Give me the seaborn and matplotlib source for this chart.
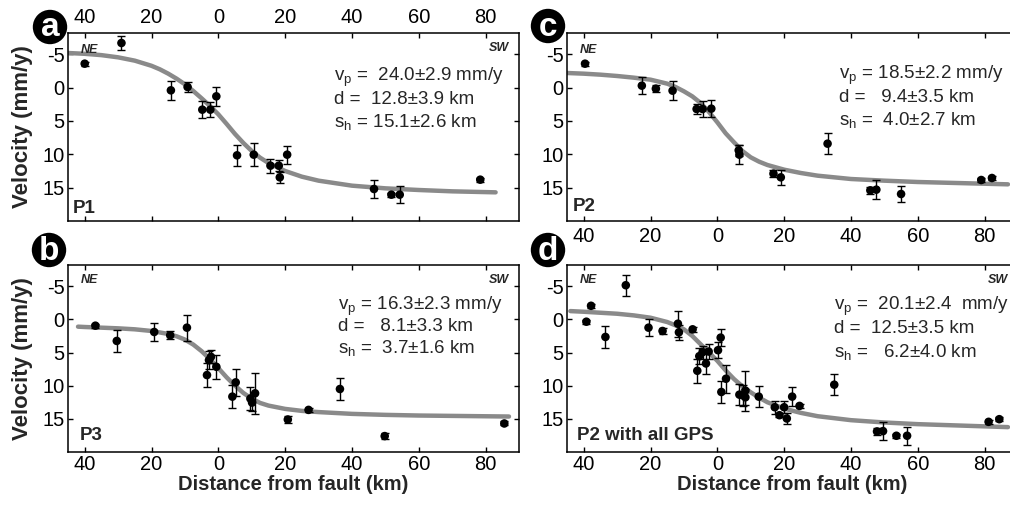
import numpy as np
import pandas as pd
import matplotlib
matplotlib.use("Agg")
import matplotlib.pyplot as plt
import seaborn as sns
from matplotlib.patches import Circle

# ---------------- data (distance: negative = NE side) ----------------
# Panel a : P1
a_x = [-40, -29, -14.2, -9.2, -4.8, -2.4, -0.6, 5.6, 10.6, 15.6, 18.1, 18.4, 20.6, 46.6, 51.8, 54.3, 78.4]
a_y = [-3.6, -6.7, 0.4, -0.1, 3.3, 3.3, 1.3, 10.15, 10.05, 11.7, 11.7, 13.45, 10.05, 15.2, 16.05, 16.05, 13.8]
a_e = [0.3, 1.1, 1.4, 0.75, 1.25, 1.1, 1.4, 1.6, 1.7, 1.05, 0.8, 0.85, 1.35, 1.4, 0.3, 1.3, 0.3]
a_cx = [-45, -40, -35, -30, -25, -20, -17.5, -15, -12.5, -10, -7.5, -5, -2.5, 0, 2.5, 5, 7.5, 10,
        12.5, 15, 20, 25, 30, 40, 50, 60, 70, 83]
a_cy = [-5.2, -5.08, -4.88, -4.55, -4.05, -3.28, -2.75, -2.1, -1.35, -0.5, 0.5, 1.6, 2.75, 4.0, 5.45, 6.95, 8.3, 9.5,
        10.5, 11.3, 12.5, 13.35, 13.95, 14.7, 15.1, 15.35, 15.55, 15.7]

# Panel b : P3
b_x = [-36.8, -30.4, -19.2, -14.4, -9.4, -3.4, -2.8, -2.2, -0.6, 4.2, 5.2, 9.6, 10.1, 11, 20.8, 27, 36.4, 49.8, 85.6]
b_y = [0.95, 3.25, 1.9, 2.4, 1.25, 8.4, 6.15, 5.65, 7.15, 11.65, 9.5, 11.95, 12.55, 11.15, 15.1, 13.65, 10.5, 17.6, 15.7]
b_e = [0.3, 1.7, 1.4, 0.6, 1.95, 1.8, 1.4, 1.0, 1.8, 1.75, 2.05, 1.75, 1.2, 3.05, 0.5, 0.3, 1.65, 0.5, 0.3]
b_cx = [-42, -40, -35, -30, -25, -20, -15, -12.5, -10, -7.5, -5, -2.5, 0, 2.5, 5, 7.5, 10, 12.5, 15,
        20, 25, 30, 40, 50, 60, 87]
b_cy = [1.1, 1.15, 1.25, 1.35, 1.5, 1.75, 2.2, 2.55, 3.05, 3.8, 4.8, 6.0, 7.35, 8.75, 10.0, 11.1, 11.95, 12.6, 13.0,
        13.5, 13.8, 13.98, 14.25, 14.4, 14.5, 14.65]

# Panel c : P2
c_x = [-39.6, -22.6, -18.4, -13.4, -6.2, -4.4, -1.8, 6.4, 6.6, 16.8, 19, 33, 45.8, 47.6, 55, 79, 82.2]
c_y = [-3.6, -0.3, 0.15, 0.45, 3.2, 3.2, 3.15, 9.4, 10.05, 12.9, 13.45, 8.4, 15.4, 15.3, 15.95, 13.85, 13.55]
c_e = [0.3, 1.3, 0.5, 1.4, 0.75, 1.25, 1.3, 0.8, 1.4, 0.5, 1.1, 1.6, 0.5, 1.4, 1.25, 0.3, 0.3]
c_cx = [-45, -40, -35, -30, -25, -20, -15, -12.5, -10, -7.5, -5, -2.5, 0, 2.5, 5, 7.5, 10, 12.5, 15,
        20, 25, 30, 40, 50, 60, 87]
c_cy = [-2.2, -2.1, -1.95, -1.75, -1.5, -1.2, -0.6, -0.1, 0.55, 1.3, 2.3, 3.65, 5.2, 6.85, 8.2, 9.5, 10.45, 11.1, 11.6,
        12.3, 12.8, 13.2, 13.7, 13.95, 14.15, 14.5]

# Panel d : P2 with all GPS
d_x = [-39.2, -37.8, -33.5, -27.4, -20.6, -16.4, -11.8, -11.5, -7.4, -6, -5.4, -4.4, -3.4, -2.6, 0.2, 1,
       1.2, 2.6, 6.6, 7.6, 8.4, 8.4, 12.4, 17.2, 18.6, 20, 20.8, 22.4, 24.6, 35, 47.8, 49.6, 53.6, 56.8, 81.2, 84.4]
d_y = [0.35, -2.05, 2.65, -5.15, 1.25, 1.75, 0.65, 1.95, 1.5, 7.75, 5.55, 4.95, 6.65, 4.85, 4.65, 2.75,
       10.95, 8.95, 11.35, 11.45, 10.75, 11.75, 11.65, 13.25, 14.45, 13.25, 14.95, 11.65, 13.05, 9.85, 16.9, 16.85, 17.55, 17.55, 15.45, 15.05]
d_e = [0.3, 0.3, 1.6, 1.55, 1.3, 0.5, 1.95, 1.1, 0.4, 1.8, 1.2, 1.0, 1.65, 1.2, 1.2, 1.3,
       1.65, 2.1, 1.6, 1.6, 3.0, 1.2, 1.6, 1.0, 0.3, 0.9, 0.9, 1.4, 0.3, 1.6, 0.5, 1.3, 0.3, 1.35, 0.3, 0.3]
d_cx = [-44, -40, -35, -30, -25, -20, -15, -12.5, -10, -7.5, -5, -2.5, 0, 2.5, 5, 7.5, 10, 12.5, 15,
        20, 25, 30, 40, 50, 60, 87]
d_cy = [-1.25, -1.15, -1.0, -0.85, -0.6, -0.25, 0.4, 0.9, 1.5, 2.5, 3.75, 5.0, 6.25, 7.7, 9.0, 10.1, 11.0, 11.8, 12.5,
        13.45, 14.1, 14.6, 15.2, 15.55, 15.8, 16.25]

xtick_pos = [-40, -20, 0, 20, 40, 60, 80]
xtick_lab = ["40", "20", "0", "20", "40", "60", "80"]
ytick_pos = [-5, 0, 5, 10, 15]
ytick_lab = ["-5", "0", "5", "10", "15"]

profile_names = {"a": "P1", "b": "P3", "c": "P2", "d": "P2 with all GPS"}
fit_text = {
    "a": ["v$_\\mathregular{p}$ =  24.0±2.9 mm/y", "d =  12.8±3.9 km", "s$_\\mathregular{h}$ = 15.1±2.6 km"],
    "b": ["v$_\\mathregular{p}$ = 16.3±2.3 mm/y", "d =   8.1±3.3 km", "s$_\\mathregular{h}$ =  3.7±1.6 km"],
    "c": ["v$_\\mathregular{p}$ = 18.5±2.2 mm/y", "d =   9.4±3.5 km", "s$_\\mathregular{h}$ =  4.0±2.7 km"],
    "d": ["v$_\\mathregular{p}$ =  20.1±2.4  mm/y", "d =  12.5±3.5 km", "s$_\\mathregular{h}$ =   6.2±4.0 km"],
}

# ---------------- style ----------------
sns.set_theme(style="ticks")
plt.rcParams["font.family"] = ["Liberation Sans", "DejaVu Sans"]
plt.rcParams["mathtext.fontset"] = "custom"
plt.rcParams["mathtext.rm"] = "Liberation Sans"
plt.rcParams["mathtext.it"] = "Liberation Sans:italic"
plt.rcParams["mathtext.bf"] = "Liberation Sans:bold"

W, H = 1010, 507
fig = plt.figure(figsize=(W / 100, H / 100), dpi=100)


def add_ax(l, t, r, b):
    return fig.add_axes([l / W, 1 - b / H, (r - l) / W, (b - t) / H])


axes = {
    "a": add_ax(68, 33, 519, 221),
    "c": add_ax(567, 33, 1018, 221),
    "b": add_ax(68, 265, 519, 452),
    "d": add_ax(567, 265, 1018, 452),
}

data = {
    "a": (a_x, a_y, a_e, a_cx, a_cy),
    "b": (b_x, b_y, b_e, b_cx, b_cy),
    "c": (c_x, c_y, c_e, c_cx, c_cy),
    "d": (d_x, d_y, d_e, d_cx, d_cy),
}

text_y = {
    "a": [0.745, 0.622, 0.500],
    "b": [0.759, 0.645, 0.528],
    "c": [0.755, 0.633, 0.511],
    "d": [0.759, 0.636, 0.510],
}
text_x = {"a": 0.590, "b": 0.598, "c": 0.603, "d": 0.592}
plabel_pos = {"a": (0.011, 0.043), "b": (0.025, 0.064), "c": (0.013, 0.055), "d": (0.022, 0.064)}

curve_color = "#8a8a8a"

for key, ax in axes.items():
    x, y, e, cx, cy = data[key]
    pts = pd.DataFrame({"x": x, "y": y, "e": e})
    crv = pd.DataFrame({"x": cx, "y": cy})
    sns.lineplot(data=crv, x="x", y="y", ax=ax, color=curve_color, lw=3.2, zorder=2,
                 sort=False, estimator=None)
    ax.errorbar(pts["x"], pts["y"], yerr=pts["e"], fmt="none", ecolor="black",
                elinewidth=1.0, capsize=3, capthick=1.0, zorder=3)
    sns.scatterplot(data=pts, x="x", y="y", ax=ax, color="black", s=38,
                    edgecolor="none", zorder=4)
    ax.set_xlim(-45, 90)
    ax.set_ylim(20, -8.2)
    ax.set_xticks(xtick_pos)
    ax.set_xticklabels(xtick_lab)
    ax.set_yticks(ytick_pos)
    ax.set_yticklabels(ytick_lab)
    ax.set_xlabel("")
    ax.set_ylabel("")
    for s in ax.spines.values():
        s.set_linewidth(1.1)
        s.set_color("black")
    ax.tick_params(direction="in", length=3.5, width=1, top=True, right=True,
                   labelsize=14.5, colors="black")
    ax.tick_params(axis="y", pad=2.5)
    if key == "a":
        ax.tick_params(axis="x", labeltop=True, labelbottom=False, pad=4.5)
    elif key == "c":
        ax.tick_params(axis="x", pad=4)
    else:
        ax.tick_params(axis="x", pad=1.8)
        ax.set_xlabel("Distance from fault (km)", fontsize=14.5, fontweight="bold", labelpad=1)

    # side labels
    ne_y = 0.94 if key in ("a", "c") else 0.95
    ax.text(0.028, ne_y, "NE", transform=ax.transAxes, fontsize=9, fontweight="bold",
            fontstyle="italic", ha="left", va="top")
    if key != "c":
        ax.text(0.978, 0.95, "SW", transform=ax.transAxes, fontsize=9, fontweight="bold",
                fontstyle="italic", ha="right", va="top")
    # fit parameters
    for line, ty in zip(fit_text[key], text_y[key]):
        ax.text(text_x[key], ty, line, transform=ax.transAxes, fontsize=13.5,
                ha="left", va="baseline")
    px, py = plabel_pos[key]
    ax.text(px, py, profile_names[key], transform=ax.transAxes, fontsize=13.5,
            fontweight="bold", ha="left", va="baseline")

# y labels
for top, bot in ((33, 221), (265, 452)):
    fig.text(23 / W, 1 - (top + bot) / 2 / H, "Velocity (mm/y)", rotation=90,
             fontsize=16, fontweight="bold", ha="center", va="center")

# circled panel letters
for letter, (cxp, cyp) in {"a": (50, 27), "b": (49, 250), "c": (548, 26), "d": (548, 250)}.items():
    fig.add_artist(Circle((cxp / 100, (H - cyp) / 100), 0.172, transform=fig.dpi_scale_trans,
                          facecolor="black", edgecolor="none", zorder=10))
    fig.text(cxp / W, 1 - (cyp + 1) / H, letter, color="white", fontsize=24, fontweight="bold",
             ha="center", va="center", zorder=11)

fig.savefig("out.png", dpi=100)
